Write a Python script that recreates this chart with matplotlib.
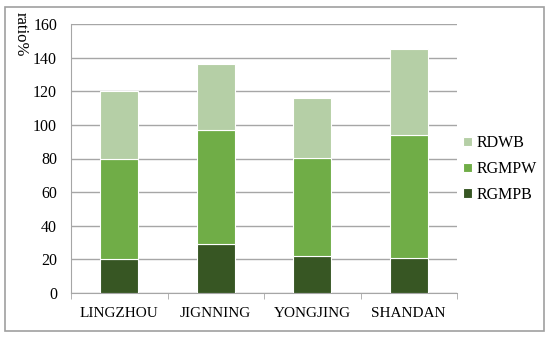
import matplotlib
matplotlib.use("Agg")
import matplotlib.pyplot as plt
from matplotlib.patches import Rectangle
import numpy as np

categories = ["LINGZHOU", "JIGNNING", "YONGJING", "SHANDAN"]
rgmpb = [20, 29, 22, 21]
rgmpw = [60, 68, 58.5, 73]
rdwb = [40, 39, 35.5, 51]
series_names = ["RGMPB", "RGMPW", "RDWB"]
colors = ["#375623", "#70ad47", "#b5cfa6"]

plt.rcParams['font.family'] = ['Liberation Serif', 'DejaVu Serif']

W, H = 550, 339
fig = plt.figure(figsize=(W/100, H/100), dpi=100)
ax = fig.add_axes([71/W, 1-293/H, (457-71)/W, (293-24)/H])

x = np.arange(len(categories))
bottom = np.zeros(len(categories))
handles = []
for name, vals, c in zip(series_names, [rgmpb, rgmpw, rdwb], colors):
    b = ax.bar(x, vals, 0.39, bottom=bottom, color=c, edgecolor="white", linewidth=0.8, label=name, zorder=3)
    bottom += np.array(vals)
    handles.append(b)

ax.set_ylim(0, 160)
ax.set_xlim(-0.5, 3.5)
ax.set_yticks(range(0, 161, 20))
ax.yaxis.grid(True, color="#a6a6a6", linewidth=1.0, zorder=0)
ax.set_axisbelow(True)
for s in ["top", "right"]:
    ax.spines[s].set_visible(False)
ax.spines["left"].set_color("#a6a6a6")
ax.spines["bottom"].set_color("#a6a6a6")
ax.tick_params(axis="y", length=0, labelsize=11.5, pad=10)
ax.set_xticks(x)
ax.set_xticklabels(categories, fontsize=11)
ax.tick_params(axis="x", length=0, pad=10)
ax.set_xticks(np.arange(-0.5, 4.0, 1.0), minor=True)
ax.tick_params(axis="x", which="minor", length=4, color="#a6a6a6")

fig.text(13/W, 1-12/H, "ratio%", rotation=270, ha="left", va="top", fontsize=12)

leg = fig.legend([handles[2], handles[1], handles[0]], ["RDWB", "RGMPW", "RGMPB"],
                 loc="center left", bbox_to_anchor=(449/W, 1-169/H), frameon=False,
                 fontsize=11.5, handlelength=0.55, handleheight=0.55, handletextpad=0.25,
                 labelspacing=0.62)

fig.add_artist(Rectangle((5/W, 1-331/H), (544-5)/W, (331-7)/H, transform=fig.transFigure,
                         fill=False, edgecolor="#a0a0a0", linewidth=1.2))

fig.savefig("out.png", dpi=100)
